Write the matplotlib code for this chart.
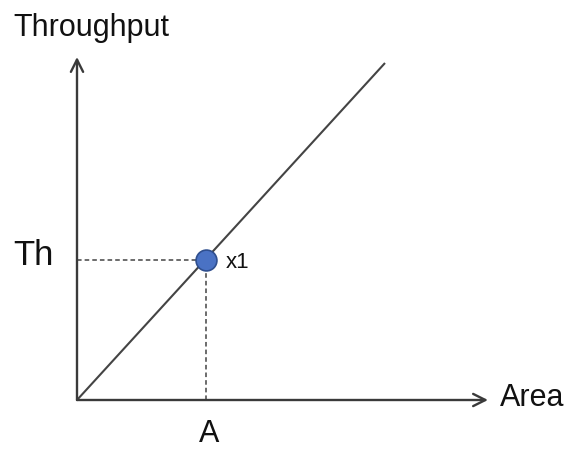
import matplotlib
matplotlib.use("Agg")
import matplotlib.pyplot as plt

# Data (in chart units; origin at the axes corner)
line_x = [0, 308]
line_y = [0, 337]
point_A = 129
point_Th = 140
x_axis_len = 411
y_axis_len = 343
labels = {"y": "Throughput", "x": "Area", "th": "Th", "a": "A", "pt": "x1"}

plt.rcParams['font.family'] = ['Liberation Sans', 'DejaVu Sans']

fig = plt.figure(figsize=(5.74, 4.53), dpi=100)
ax = fig.add_axes([0, 0, 1, 1])
ax.set_xlim(-77, 497)
ax.set_ylim(-53, 400)
ax.axis('off')

axc = '#3a3a3a'
# axes arrows
ax.annotate('', xy=(x_axis_len, 0), xytext=(0, 0),
            arrowprops=dict(arrowstyle='->', color=axc, lw=1.7, mutation_scale=22,
                            shrinkA=0, shrinkB=0))
ax.annotate('', xy=(0, y_axis_len), xytext=(0, 0),
            arrowprops=dict(arrowstyle='->', color=axc, lw=1.7, mutation_scale=22,
                            shrinkA=0, shrinkB=0))

# diagonal line
ax.plot(line_x, line_y, color='#444444', lw=1.5, solid_capstyle='butt')

# dashed guides
ax.plot([0, point_A], [point_Th, point_Th], color='#444444', lw=1.1, ls=(0, (3, 2)))
ax.plot([point_A, point_A], [0, point_Th], color='#444444', lw=1.1, ls=(0, (3, 2)))

# point
ax.plot([point_A], [point_Th], 'o', ms=15, mfc='#4a72c4', mec='#2f4f8f', mew=1.2, zorder=5)

# texts
ax.text(-64, 364, labels["y"], fontsize=22, ha='left', va='baseline', color='#111111')
ax.text(-64, 135, labels["th"], fontsize=25, ha='left', va='baseline', color='#111111')
ax.text(point_A + 20, point_Th - 8, labels["pt"], fontsize=16, ha='left', va='baseline', color='#111111')
ax.text(423, -6, labels["x"], fontsize=22, ha='left', va='baseline', color='#111111')
ax.text(point_A + 3, -42, labels["a"], fontsize=22, ha='center', va='baseline', color='#111111')

fig.savefig('out.png', dpi=100)
